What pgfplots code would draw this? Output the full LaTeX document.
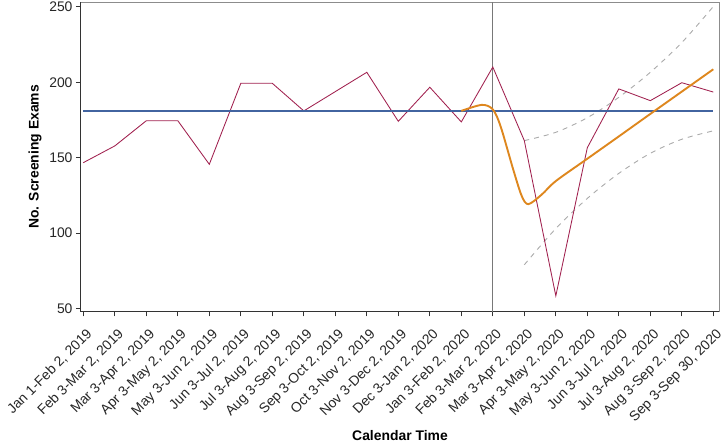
\documentclass[border=0pt]{standalone}
\usepackage{fontspec}
\setmainfont{Liberation Sans}
\usepackage{pgfplots}
\pgfplotsset{compat=1.18}

\definecolor{obsred}{RGB}{160,32,78}
\definecolor{trendblue}{RGB}{66,100,160}
\definecolor{halo}{RGB}{200,213,232}
\definecolor{fitorange}{RGB}{222,135,30}
\definecolor{cigray}{RGB}{170,170,170}
\definecolor{cutgray}{RGB}{120,120,120}

\newcommand{\lblfont}{\fontsize{13.9}{16}\selectfont}

\begin{document}
\begin{tikzpicture}
\begin{axis}[
  scale only axis,
  width=638.6pt, height=309.7pt,
  xmin=-0.083, xmax=20.19,
  ymin=47.9, ymax=253.2,
  axis lines=left,
  axis line style={-, draw=black!80, line width=0.8pt},
  tick align=outside,
  major tick length=4.7pt,
  tick style={black!80, line width=0.8pt},
  xtick={0,...,20},
  xticklabels={{Jan 1-Feb 2, 2019}, {Feb 3-Mar 2, 2019}, {Mar 3-Apr 2, 2019},
    {Apr 3-May 2, 2019}, {May 3-Jun 2, 2019}, {Jun 3-Jul 2, 2019},
    {Jul 3-Aug 2, 2019}, {Aug 3-Sep 2, 2019}, {Sep 3-Oct 2, 2019},
    {Oct 3-Nov 2, 2019}, {Nov 3-Dec 2, 2019}, {Dec 3-Jan 2, 2020},
    {Jan 3-Feb 2, 2020}, {Feb 3-Mar 2, 2020}, {Mar 3-Apr 2, 2020},
    {Apr 3-May 2, 2020}, {May 3-Jun 2, 2020}, {Jun 3-Jul 2, 2020},
    {Jul 3-Aug 2, 2020}, {Aug 3-Sep 2, 2020}, {Sep 3-Sep 30, 2020}},
  ytick={50,100,150,200,250},
  /pgf/number format/assume math mode=true,
  every tick label/.append style={font=\lblfont, text=black!85},
  xticklabel style={rotate=45, anchor=north east, xshift=-3pt, yshift=-6pt},
  ylabel={No. Screening Exams},
  xlabel={Calendar Time},
  label style={font=\bfseries\lblfont},
  ylabel style={at={(rel axis cs:-0.0716,0.5)}, anchor=center},
  xlabel style={at={(rel axis cs:0.5,0)}, anchor=base, inner sep=0pt, yshift=-128.3pt},
  clip=false,
]
\coordinate (O) at (rel axis cs:0,0);
\draw[black!45, line width=0.8pt] (rel axis cs:0,1) -- (rel axis cs:1,1) -- (rel axis cs:1,0);

% intervention line
\addplot[cutgray, line width=1.2pt] coordinates {(13,47.9) (13,253.2)};

% prediction interval
\addplot[cigray, line width=0.9pt, dash pattern=on 5pt off 5pt, smooth] coordinates {
  (14,161.3) (15,166.8) (16,176.5) (17,190.0) (18,206.6) (19,226.3) (20,250.2)};
\addplot[cigray, line width=0.9pt, dash pattern=on 5pt off 5pt, smooth] coordinates {
  (14,79.0) (15,103.0) (16,123.0) (17,139.6) (18,152.9) (19,162.2) (20,167.8)};

% observed counts
\addplot[obsred, line width=0.85pt] coordinates {
  (0,146.7) (1,157.8) (2,174.5) (3,174.5) (4,145.6) (5,199.3) (6,199.3)
  (7,181.0) (8,193.8) (9,206.6) (10,174.1) (11,196.7) (12,173.7) (13,210.1)
  (14,161.3) (15,58.4) (16,156.6) (17,195.6) (18,187.8) (19,199.7) (20,193.5)};

% pre-period mean
\addplot[halo, line width=2.8pt] coordinates {(0,181.0) (20,181.0)};
\addplot[trendblue, line width=1.2pt] coordinates {(0,181.0) (20,181.0)};

% fitted model
\addplot[fitorange, line width=1.9pt, smooth, tension=0.5] coordinates {
  (12,181.0) (12.65,185.0) (13,182.0) (13.25,170.6) (13.65,142.0) (13.92,124.5)
  (14.13,119.2) (14.55,125.5) (15,134.5) (16,149.3) (17,164.1) (18,179.0)
  (19,193.8) (20,208.6)};
\end{axis}
\pgfresetboundingbox
\path ([shift={(-80.7pt,-132.3pt)}]O) rectangle ++(721pt,444pt);
\end{tikzpicture}
\end{document}
